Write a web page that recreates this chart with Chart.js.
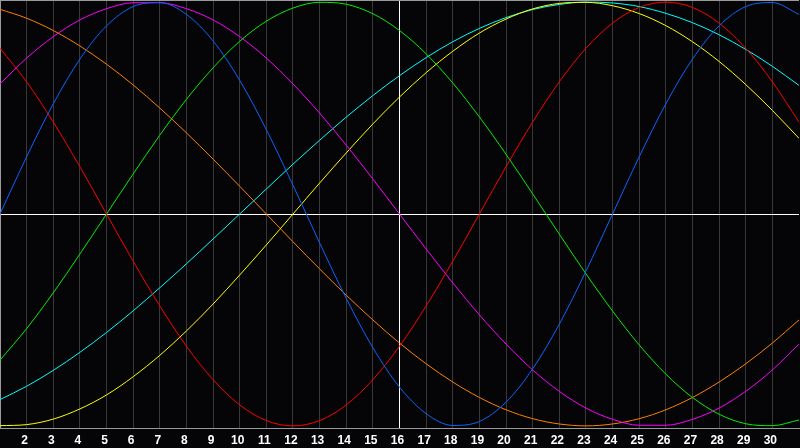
<!DOCTYPE html>
<html><head><meta charset="utf-8">
<script src="https://cdn.jsdelivr.net/npm/chart.js@4.4.1/dist/chart.umd.min.js"></script>
<style>html,body{margin:0;padding:0;background:#050508;overflow:hidden}#wrap{width:800px;height:448px;position:relative}canvas{display:block}</style>
</head><body><div id="wrap"><canvas id="c" width="800" height="448"></canvas></div>
<script>
const days = [1,2,3,4,5,6,7,8,9,10,11,12,13,14,15,16,17,18,19,20,21,22,23,24,25,26,27,28,29,30,31];
const tickLabels = [2,3,4,5,6,7,8,9,10,11,12,13,14,15,16,17,18,19,20,21,22,23,24,25,26,27,28,29,30];
const today = 16;

// cycle 23 (blue)
const physical = [0,0.270,0.520,0.731,0.888,0.979,0.998,0.942,0.817,0.631,0.398,0.136,-0.136,-0.398,-0.631,-0.817,-0.942,-0.998,-0.979,-0.888,-0.731,-0.520,-0.270,0,0.270,0.520,0.731,0.888,0.979,0.998,0.942];
// cycle 28 (red)
const emotional = [0.782,0.624,0.434,0.223,0,-0.223,-0.434,-0.624,-0.782,-0.901,-0.975,-1,-0.975,-0.901,-0.782,-0.624,-0.434,-0.223,0,0.223,0.434,0.624,0.782,0.901,0.975,1,0.975,0.901,0.782,0.624,0.434];
// cycle 33 (green)
const intellectual = [-0.690,-0.541,-0.372,-0.189,0,0.189,0.372,0.541,0.690,0.815,0.910,0.972,0.999,0.990,0.945,0.866,0.756,0.618,0.458,0.282,0.095,-0.095,-0.282,-0.458,-0.618,-0.756,-0.866,-0.945,-0.990,-0.999,-0.972];
// cycle 38 (magenta)
const intuitive = [0.614,0.736,0.837,0.916,0.969,0.997,0.997,0.969,0.916,0.837,0.736,0.614,0.476,0.325,0.165,0,-0.165,-0.325,-0.476,-0.614,-0.736,-0.837,-0.916,-0.969,-0.997,-0.997,-0.969,-0.916,-0.837,-0.736,-0.614];
// cycle 43 (yellow)
const aesthetic = [-0.999,-0.994,-0.968,-0.920,-0.854,-0.768,-0.667,-0.552,-0.425,-0.288,-0.146,0,0.146,0.288,0.425,0.552,0.667,0.768,0.854,0.920,0.968,0.994,0.999,0.983,0.946,0.889,0.813,0.720,0.611,0.489,0.357];
// cycle 48 (orange)
const awareness = [0.966,0.924,0.866,0.793,0.707,0.609,0.5,0.383,0.259,0.131,0,-0.131,-0.259,-0.383,-0.5,-0.609,-0.707,-0.793,-0.866,-0.924,-0.966,-0.991,-1,-0.991,-0.966,-0.924,-0.866,-0.793,-0.707,-0.609,-0.5];
// cycle 53 (cyan)
const spiritual = [-0.876,-0.813,-0.738,-0.653,-0.559,-0.457,-0.348,-0.235,-0.118,0,0.118,0.235,0.348,0.457,0.559,0.653,0.738,0.813,0.876,0.927,0.965,0.989,1.000,0.996,0.979,0.947,0.903,0.846,0.777,0.697,0.607];

const seriesNames = ['Physical','Emotional','Intellectual','Intuitive','Aesthetic','Awareness','Spiritual'];
const seriesData = [physical, emotional, intellectual, intuitive, aesthetic, awareness, spiritual];
const seriesColors = ['#0a64ff','#ff0000','#00f000','#ff00ff','#ffff00','#ff8000','#00ffff'];

const BORDER = '#9a9a9a';
const bgPlugin = {
  id:'bg',
  beforeDraw(chart){
    const ctx = chart.ctx;
    ctx.save(); ctx.fillStyle = '#050508'; ctx.fillRect(0,0,chart.width,chart.height); ctx.restore();
  }
};

const datasets = seriesData.map((arr,i)=>({
  label: seriesNames[i],
  data: days.map((d,j)=>({x:d, y:arr[j]})),
  borderColor: seriesColors[i],
  borderWidth: 1,
  pointRadius: 0,
  fill: false,
  cubicInterpolationMode: 'monotone'
}));

new Chart(document.getElementById('c'), {
  type:'line',
  data:{datasets},
  options:{
    responsive:false,
    animation:false,
    devicePixelRatio:1,
    layout:{padding:{left:0,right:1,top:0,bottom:-5}},
    plugins:{legend:{display:false}, tooltip:{enabled:false}},
    scales:{
      x:{
        type:'linear', min:1, max:31,
        ticks:{stepSize:1, autoSkip:false, maxRotation:0, color:'#ffffff', padding:3, labelOffset:-2,
          font:{family:'"Liberation Sans", Arial, sans-serif', size:12, weight:'bold', lineHeight:'19px'},
          callback:(v)=> tickLabels.includes(v) ? String(v) : null},
        grid:{drawTicks:false, lineWidth:1,
          color:(c)=>{ const v=c.tick?c.tick.value:null; if(v===today) return '#ffffff'; if(v===31) return BORDER; return '#383838'; }},
        border:{color:BORDER, width:1}
      },
      y:{
        min:-1.01, max:1.01,
        ticks:{display:false, stepSize:1.01},
        grid:{drawTicks:false, lineWidth:1,
          color:(c)=>{ const v=c.tick?c.tick.value:null; if(v===0) return '#ffffff'; if(v===1.01) return BORDER; return 'rgba(0,0,0,0)'; }},
        border:{color:BORDER, width:1}
      }
    }
  },
  plugins:[bgPlugin]
});
</script>
</body></html>
